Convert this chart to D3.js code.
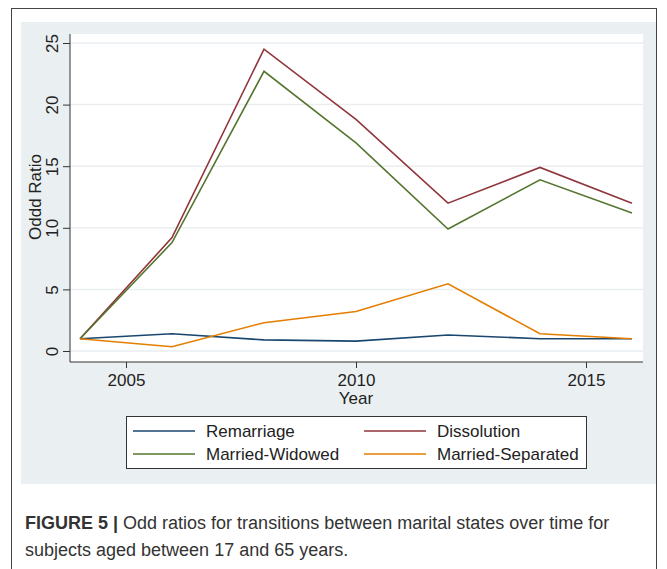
<!DOCTYPE html>
<html>
<head>
<meta charset="utf-8">
<script src="https://cdn.jsdelivr.net/npm/d3@7"></script>
<style>
  body { margin: 0; background: #fff; }
  svg text { font-family: "Liberation Sans", Arial, sans-serif; }
</style>
</head>
<body>
<div id="chart"></div>
<script>
// data
var years = [2004, 2006, 2008, 2010, 2012, 2014, 2016];
var remarriage = [1.0, 1.4, 0.9, 0.8, 1.3, 1.0, 1.0];
var dissolution = [1.0, 9.2, 24.5, 18.8, 12.0, 14.9, 12.0];
var widowed = [1.0, 8.8, 22.7, 16.9, 9.9, 13.9, 11.2];
var separated = [1.0, 0.35, 2.3, 3.2, 5.45, 1.4, 1.0];
var seriesNames = ['Remarriage', 'Dissolution', 'Married-Widowed', 'Married-Separated'];
var seriesColors = ['#1a476f', '#90353b', '#55752f', '#e37e00'];
var xTicks = [2005, 2010, 2015];
var yTicks = [0, 5, 10, 15, 20, 25];

var W = 667, H = 569;
var plot = { left: 70, right: 643, top: 34, bottom: 362 };

var svg = d3.select('#chart').append('svg')
  .attr('width', W)
  .attr('height', H);

// outer frame
svg.append('rect')
  .attr('x', 11.5).attr('y', 8.5)
  .attr('width', 645).attr('height', 580)
  .attr('fill', '#fff').attr('stroke', '#444').attr('stroke-width', 1);

// graph region
svg.append('rect')
  .attr('x', 21).attr('y', 22)
  .attr('width', 635).attr('height', 462)
  .attr('fill', '#eaf0f2');

// plot region
svg.append('rect')
  .attr('x', plot.left).attr('y', plot.top)
  .attr('width', plot.right - plot.left).attr('height', plot.bottom - plot.top)
  .attr('fill', '#fff');

var x = d3.scaleLinear().domain([2004, 2016]).range([80, 632]);
var y = d3.scaleLinear().domain([0, 25]).range([351, 43]);

// gridlines
svg.selectAll('.grid')
  .data(yTicks)
  .enter().append('line')
  .attr('class', 'grid')
  .attr('x1', plot.left).attr('x2', plot.right)
  .attr('y1', function(d) { return y(d); })
  .attr('y2', function(d) { return y(d); })
  .attr('stroke', '#eaeef0').attr('stroke-width', 1.5);

// y axis
var yAxis = svg.append('g')
  .attr('transform', 'translate(' + plot.left + ',0)')
  .call(d3.axisLeft(y).tickValues(yTicks).tickSize(7));
yAxis.select('.domain').attr('d', 'M0,' + plot.top + 'V' + plot.bottom).attr('stroke', '#333');
yAxis.selectAll('.tick line').attr('stroke', '#333');
// rotated tick labels like the original
yAxis.selectAll('.tick text').remove();
yAxis.selectAll('.tick').append('text')
  .attr('transform', 'translate(-12,0) rotate(-90)')
  .attr('text-anchor', 'middle')
  .attr('font-size', 17).attr('fill', '#222')
  .text(function(d) { return d; });

// x axis
var xAxis = svg.append('g')
  .attr('transform', 'translate(0,' + plot.bottom + ')')
  .call(d3.axisBottom(x).tickValues(xTicks).tickFormat(d3.format('d')).tickSize(6).tickPadding(6));
xAxis.select('.domain').attr('d', 'M' + plot.left + ',0H' + plot.right).attr('stroke', '#333');
xAxis.selectAll('.tick line').attr('stroke', '#333');
xAxis.selectAll('.tick text').attr('font-size', 17).attr('fill', '#222');

// axis titles
svg.append('text')
  .attr('transform', 'translate(41,' + y(12.5) + ') rotate(-90)')
  .attr('text-anchor', 'middle')
  .attr('font-size', 17).attr('fill', '#222')
  .text('Oddd Ratio');
svg.append('text')
  .attr('x', x(2010)).attr('y', 404)
  .attr('text-anchor', 'middle')
  .attr('font-size', 17).attr('fill', '#222')
  .text('Year');

// lines
var seriesValues = [remarriage, dissolution, widowed, separated];
var line = d3.line()
  .x(function(d, i) { return x(years[i]); })
  .y(function(d) { return y(d); });
svg.selectAll('.series')
  .data(d3.range(seriesValues.length))
  .enter().append('path')
  .attr('class', 'series')
  .attr('d', function(k) { return line(seriesValues[k]); })
  .attr('fill', 'none')
  .attr('stroke', function(k) { return seriesColors[k]; })
  .attr('stroke-width', 1.6);

// legend
var legend = svg.append('g').attr('transform', 'translate(126,416)');
legend.append('rect')
  .attr('x', 0.5).attr('y', 0.5)
  .attr('width', 460).attr('height', 52)
  .attr('fill', '#fff').attr('stroke', '#333');
var items = legend.selectAll('.item')
  .data(seriesNames)
  .enter().append('g')
  .attr('class', 'item')
  .attr('transform', function(d, i) { return 'translate(' + (i % 2 ? 238 : 7) + ',' + (i < 2 ? 15 : 38) + ')'; });
items.append('line')
  .attr('x1', 0).attr('x2', 62)
  .attr('stroke', function(d, i) { return seriesColors[i]; })
  .attr('stroke-width', 1.6);
items.append('text')
  .attr('x', 73).attr('dy', '0.36em')
  .attr('font-size', 17).attr('fill', '#222')
  .text(function(d) { return d; });

// caption
var cap = svg.append('text')
  .attr('x', 25).attr('y', 529)
  .attr('font-size', 18).attr('fill', '#333');
cap.append('tspan').attr('font-weight', 'bold').text('FIGURE 5 | ');
cap.append('tspan').text('Odd ratios for transitions between marital states over time for');
svg.append('text')
  .attr('x', 25).attr('y', 556)
  .attr('font-size', 18).attr('fill', '#333')
  .text('subjects aged between 17 and 65 years.');
</script>
</body>
</html>
